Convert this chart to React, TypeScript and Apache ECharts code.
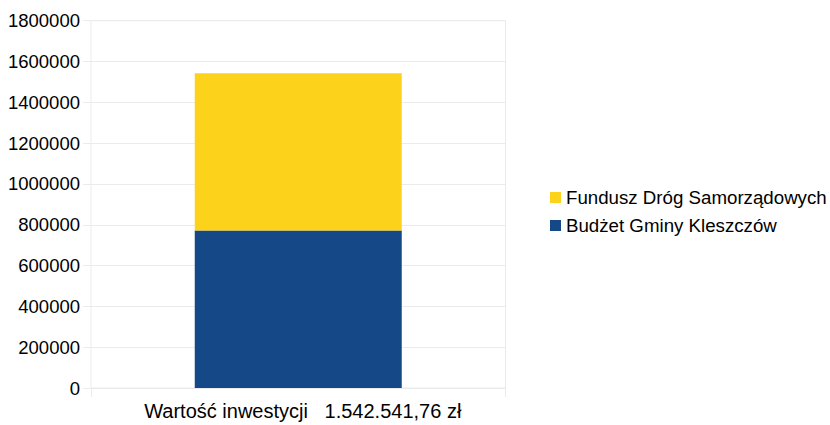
import React, { useEffect, useRef } from "react";
import * as echarts from "echarts";

const categories = ["Wartość inwestycji   1.542.541,76 zł"];
const budzetGminy = [771270.88];
const funduszDrog = [771270.88];
const seriesNames = ["Budżet Gminy Kleszczów", "Fundusz Dróg Samorządowych"];
const legendOrder = ["Fundusz Dróg Samorządowych", "Budżet Gminy Kleszczów"];

const FONT = "'Liberation Sans', Arial, sans-serif";
const GRID_COLOR = "#ebebeb";

export default function App() {
  const ref = useRef<HTMLDivElement>(null);
  useEffect(() => {
    if (!ref.current) return;
    const chart = echarts.init(ref.current, undefined, { renderer: "svg" });
    chart.setOption({
      animation: false,
      textStyle: { fontFamily: FONT },
      grid: {
        left: 91,
        right: 324.5,
        top: 20.7,
        bottom: 37,
        show: true,
        borderColor: GRID_COLOR,
        borderWidth: 1,
      },
      legend: {
        orient: "vertical",
        left: 545,
        top: 183,
        itemWidth: 11,
        itemHeight: 11,
        itemGap: 9,
        icon: "rect",
        data: legendOrder,
        textStyle: { fontFamily: FONT, fontSize: 18.7, color: "#000" },
      },
      xAxis: {
        type: "category",
        data: categories,
        axisLine: { show: true, lineStyle: { color: GRID_COLOR } },
        axisTick: { show: true, length: 9, lineStyle: { color: GRID_COLOR } },
        axisLabel: {
          fontFamily: FONT,
          fontSize: 20,
          color: "#000",
          margin: 13,
          padding: [0, 0, 0, 9],
        },
      },
      yAxis: {
        type: "value",
        min: 0,
        max: 1800000,
        interval: 200000,
        axisLine: { show: false },
        axisTick: { show: true, length: 8, lineStyle: { color: GRID_COLOR } },
        splitLine: { show: true, lineStyle: { color: GRID_COLOR } },
        axisLabel: {
          fontFamily: FONT,
          fontSize: 18.5,
          color: "#000",
          margin: 11,
          formatter: (v: number) => String(v),
        },
      },
      series: [
        {
          name: seriesNames[0],
          type: "bar",
          stack: "total",
          barWidth: 207,
          data: budzetGminy,
          itemStyle: { color: "#144886" },
        },
        {
          name: seriesNames[1],
          type: "bar",
          stack: "total",
          barWidth: 207,
          data: funduszDrog,
          itemStyle: { color: "#fdd21b" },
        },
      ],
    });
    return () => chart.dispose();
  }, []);
  return <div ref={ref} style={{ width: 830, height: 425, position: "absolute", left: 0, top: 0 }} />;
}
